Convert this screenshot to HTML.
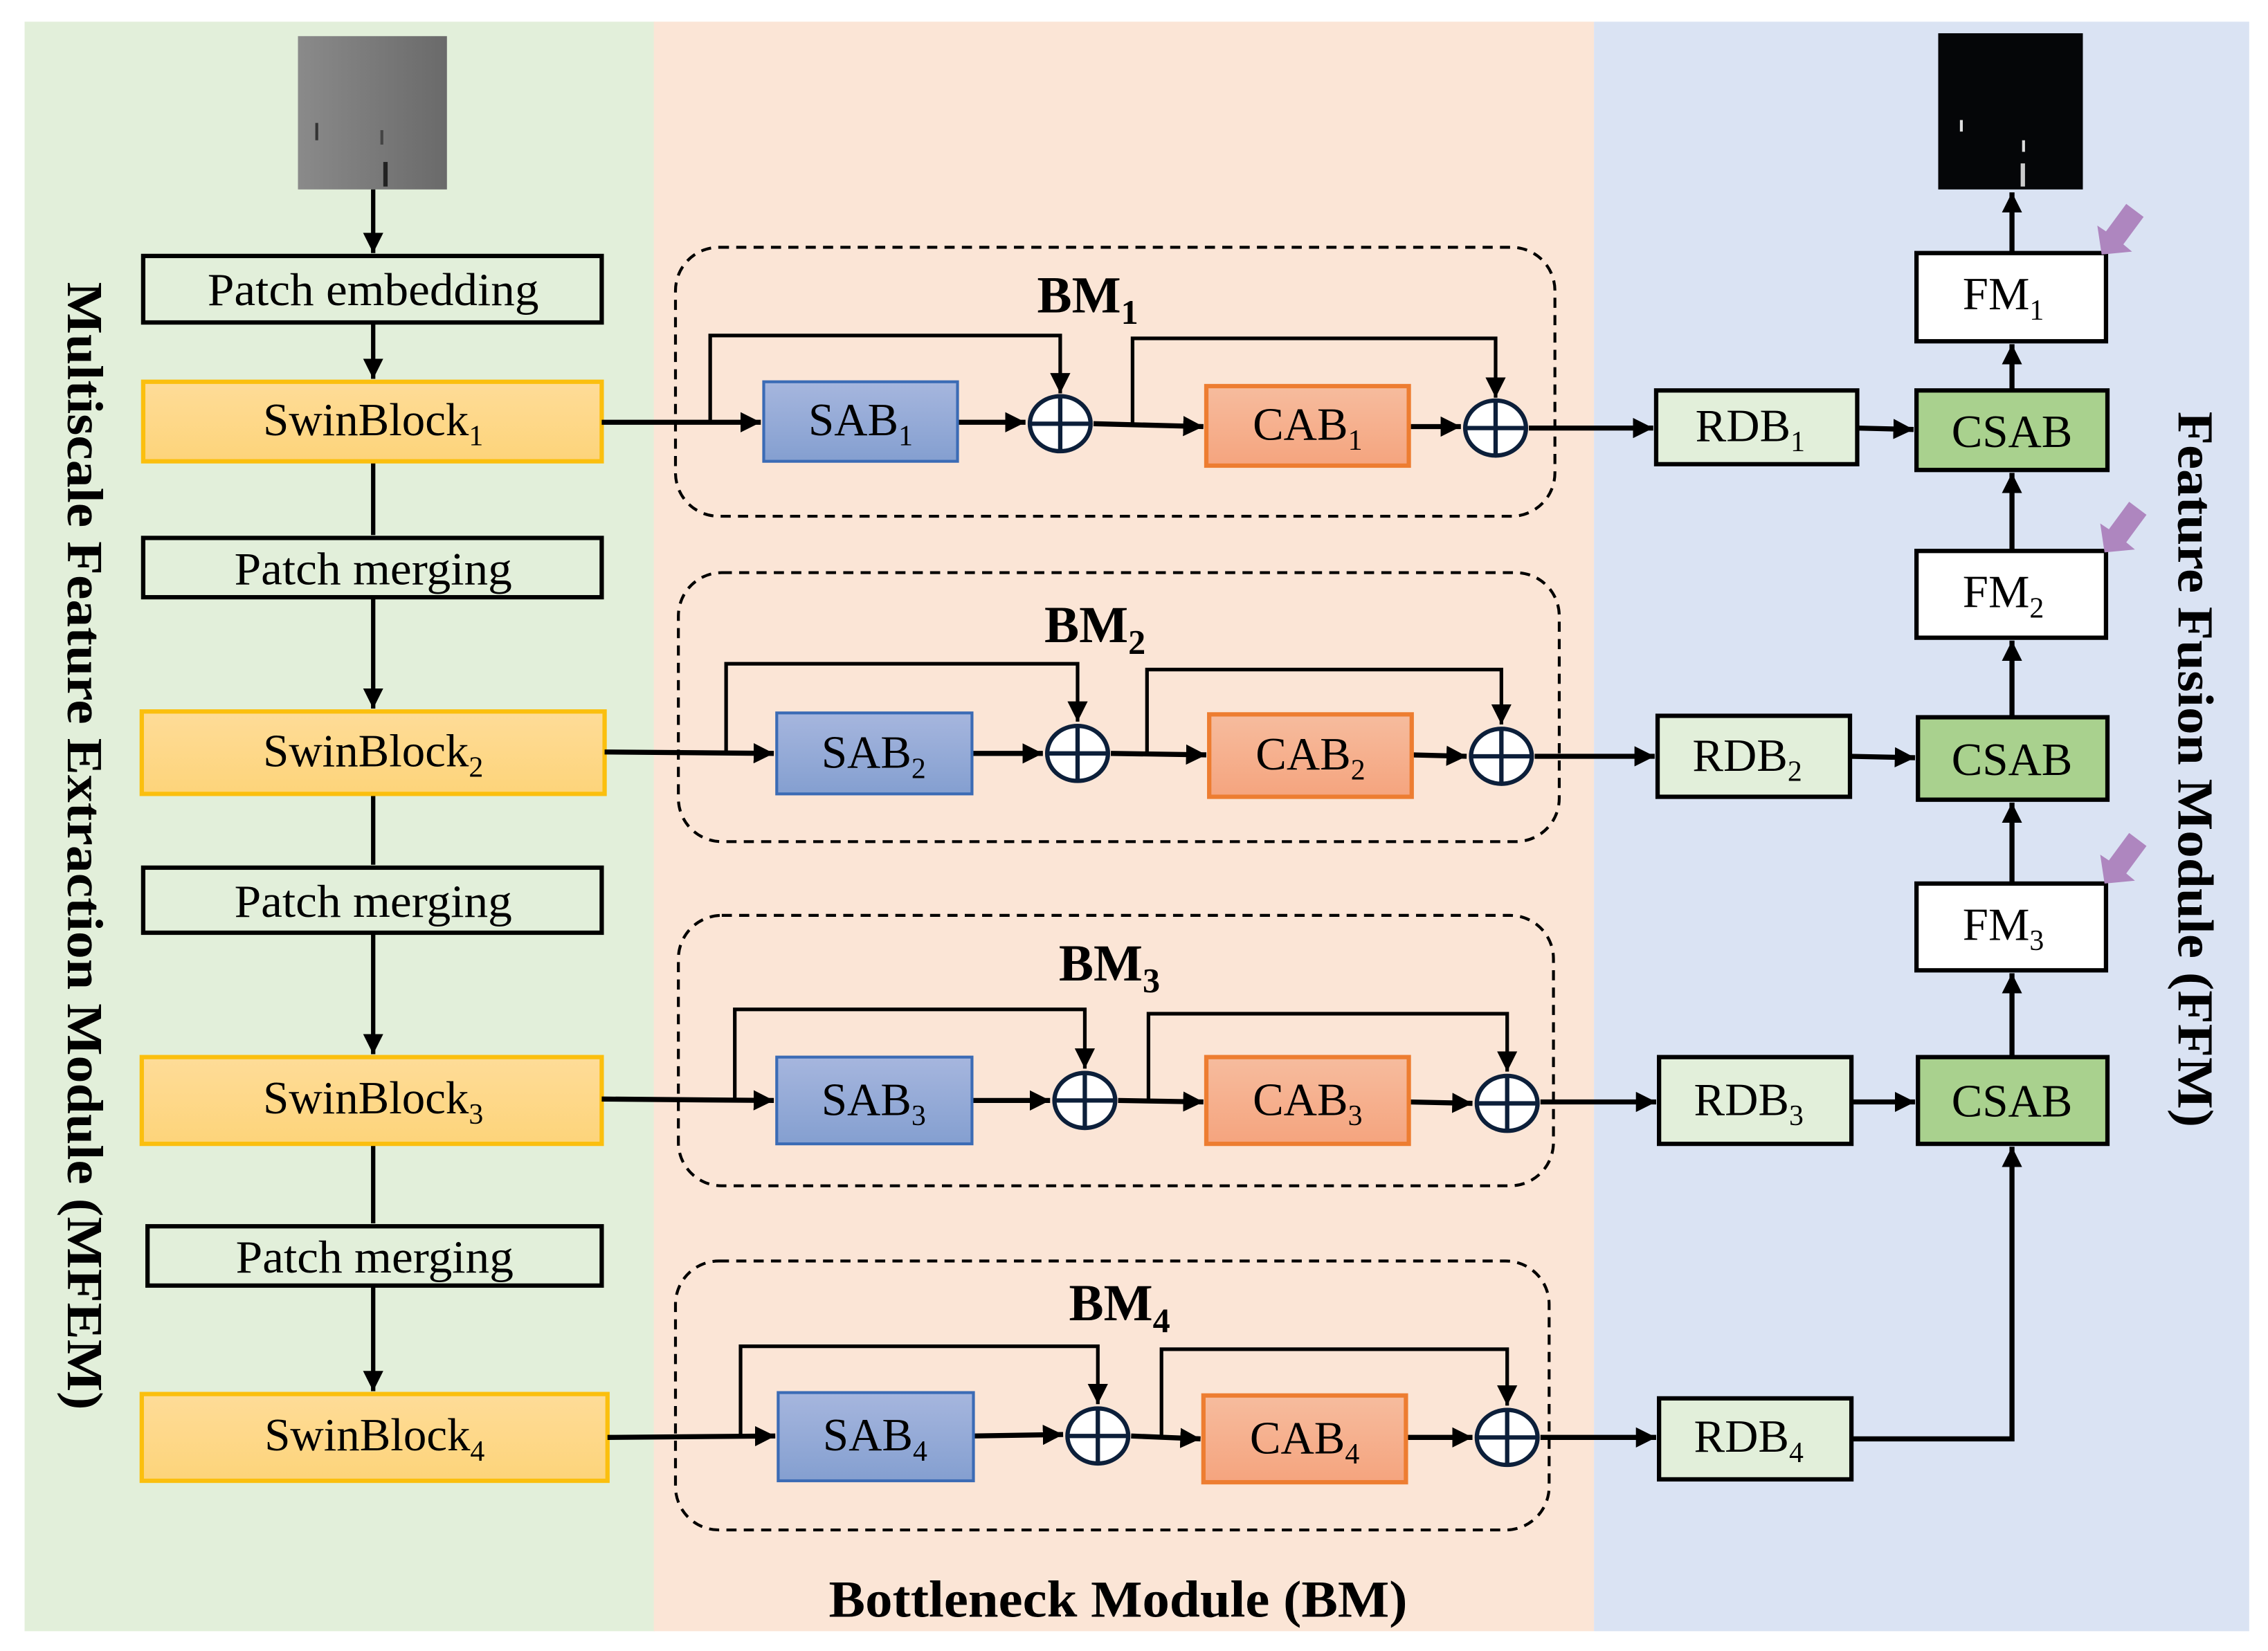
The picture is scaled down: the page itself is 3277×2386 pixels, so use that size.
<!DOCTYPE html>
<html><head><meta charset="utf-8"><style>
html,body{margin:0;padding:0;background:#fff;}
svg{display:block;}
text{font-family:"Liberation Serif",serif;fill:#000;}
</style></head><body>
<svg width="3277" height="2386" viewBox="0 0 1568 1141.7" preserveAspectRatio="none" xmlns="http://www.w3.org/2000/svg">
<defs>
<marker id="a" viewBox="0 0 10 10" refX="10" refY="5" markerWidth="14" markerHeight="14" markerUnits="userSpaceOnUse" orient="auto"><path d="M0,0 L10,5 L0,10 z" fill="#000"/></marker>
<linearGradient id="gy" x1="0" y1="0" x2="0" y2="1"><stop offset="0" stop-color="#fedc98"/><stop offset="1" stop-color="#fdd47a"/></linearGradient>
<linearGradient id="gb" x1="0" y1="0" x2="0" y2="1"><stop offset="0" stop-color="#a6b6de"/><stop offset="1" stop-color="#849fd0"/></linearGradient>
<linearGradient id="go" x1="0" y1="0" x2="0" y2="1"><stop offset="0" stop-color="#f6bc9e"/><stop offset="1" stop-color="#f5a47e"/></linearGradient>
<linearGradient id="gi" x1="0" y1="0" x2="1" y2="0"><stop offset="0" stop-color="#8a8a8a"/><stop offset="1" stop-color="#6a6a6a"/></linearGradient>
</defs>
<rect x="17" y="15" width="436" height="1113" fill="#e2efda"/>
<rect x="452" y="15" width="650" height="1113" fill="#fbe5d6"/>
<rect x="1102" y="15" width="453" height="1113" fill="#dae3f3"/>

<rect x="206" y="25" width="103" height="106" fill="url(#gi)"/>
<rect x="218" y="85" width="2" height="12" fill="#333"/>
<rect x="265" y="112" width="3" height="17" fill="#222"/>
<rect x="263" y="90" width="2" height="10" fill="#444"/>
<rect x="1340" y="23" width="100" height="108" fill="#050608"/>
<rect x="1355" y="83" width="2" height="8" fill="#ddd"/>
<rect x="1398" y="97" width="2" height="8" fill="#ddd"/>
<rect x="1397" y="113" width="3" height="16" fill="#ccc"/>

<g stroke="#000" stroke-width="3" fill="none">
<line x1="258" y1="131" x2="258" y2="175" marker-end="url(#a)"/>
<line x1="258" y1="223" x2="258" y2="262" marker-end="url(#a)"/>
<line x1="258" y1="319" x2="258" y2="370"/>
<line x1="258" y1="413" x2="258" y2="490" marker-end="url(#a)"/>
<line x1="258" y1="549" x2="258" y2="598"/>
<line x1="258" y1="645" x2="258" y2="729" marker-end="url(#a)"/>
<line x1="258" y1="791" x2="258" y2="846"/>
<line x1="258" y1="889" x2="258" y2="962" marker-end="url(#a)"/>
</g>
<g fill="#e2efda" stroke="#000" stroke-width="3">
<rect x="99" y="177" width="317" height="46"/>
<rect x="99" y="372" width="317" height="41"/>
<rect x="99" y="600" width="317" height="45"/>
<rect x="102" y="848" width="314" height="41"/>
</g>
<g font-size="32" text-anchor="middle">
<text x="258" y="211" textLength="229" lengthAdjust="spacingAndGlyphs">Patch embedding</text>
<text x="258" y="404" textLength="192" lengthAdjust="spacingAndGlyphs">Patch merging</text>
<text x="258" y="634" textLength="192" lengthAdjust="spacingAndGlyphs">Patch merging</text>
<text x="259" y="880" textLength="192" lengthAdjust="spacingAndGlyphs">Patch merging</text>
</g>
<g fill="url(#gy)" stroke="#fbbf0e" stroke-width="3">
<rect x="99" y="264" width="317" height="55"/>
<rect x="98" y="492" width="320" height="57"/>
<rect x="98" y="731" width="318" height="60"/>
<rect x="98" y="964" width="322" height="60"/>
</g>
<g font-size="32" text-anchor="middle">
<text x="258" y="301">SwinBlock<tspan font-size="20" dy="7">1</tspan></text>
<text x="258" y="530">SwinBlock<tspan font-size="20" dy="7">2</tspan></text>
<text x="258" y="770">SwinBlock<tspan font-size="20" dy="7">3</tspan></text>
<text x="259" y="1003">SwinBlock<tspan font-size="20" dy="7">4</tspan></text>
</g>

<g fill="none" stroke="#000" stroke-width="2" stroke-dasharray="7,5">
<rect x="467" y="171" width="608" height="186" rx="30"/>
<rect x="469" y="396" width="609" height="186" rx="30"/>
<rect x="469" y="633" width="605" height="187" rx="30"/>
<rect x="467" y="872" width="604" height="186" rx="30"/>
</g>
<g font-size="36" font-weight="bold" text-anchor="middle">
<text x="752" y="216">BM<tspan font-size="24" dy="8">1</tspan></text>
<text x="757" y="444">BM<tspan font-size="24" dy="8">2</tspan></text>
<text x="767" y="678">BM<tspan font-size="24" dy="8">3</tspan></text>
<text x="774" y="913">BM<tspan font-size="24" dy="8">4</tspan></text>
</g>

<g stroke="#000" stroke-width="3.5" fill="none">
<line x1="416" y1="292" x2="526" y2="292" marker-end="url(#a)"/>
<polyline points="491,292 491,232 733,232 733,272" stroke-width="2.5" marker-end="url(#a)"/>
<line x1="662" y1="292" x2="709" y2="292" marker-end="url(#a)"/>
<line x1="756" y1="293" x2="832" y2="295" marker-end="url(#a)"/>
<polyline points="783,295 783,234 1034,234 1034,275" stroke-width="2.5" marker-end="url(#a)"/>
<line x1="974" y1="295" x2="1010" y2="295" marker-end="url(#a)"/>
<line x1="1057" y1="296" x2="1143" y2="296" marker-end="url(#a)"/>
<line x1="1284" y1="296" x2="1323" y2="297" marker-end="url(#a)"/>
<line x1="418" y1="520" x2="535" y2="521" marker-end="url(#a)"/>
<polyline points="502,520 502,459 745,459 745,499" stroke-width="2.5" marker-end="url(#a)"/>
<line x1="672" y1="521" x2="721" y2="521" marker-end="url(#a)"/>
<line x1="768" y1="521" x2="834" y2="522" marker-end="url(#a)"/>
<polyline points="793,521 793,463 1038,463 1038,501" stroke-width="2.5" marker-end="url(#a)"/>
<line x1="976" y1="522" x2="1014" y2="523" marker-end="url(#a)"/>
<line x1="1061" y1="523" x2="1144" y2="523" marker-end="url(#a)"/>
<line x1="1279" y1="523" x2="1324" y2="524" marker-end="url(#a)"/>
<line x1="416" y1="760" x2="535" y2="761" marker-end="url(#a)"/>
<polyline points="508,760 508,698 750,698 750,739" stroke-width="2.5" marker-end="url(#a)"/>
<line x1="672" y1="761" x2="726" y2="761" marker-end="url(#a)"/>
<line x1="773" y1="761" x2="832" y2="762" marker-end="url(#a)"/>
<polyline points="794,761 794,701 1042,701 1042,741" stroke-width="2.5" marker-end="url(#a)"/>
<line x1="974" y1="762" x2="1018" y2="763" marker-end="url(#a)"/>
<line x1="1065" y1="762" x2="1145" y2="762" marker-end="url(#a)"/>
<line x1="1280" y1="762" x2="1324" y2="762" marker-end="url(#a)"/>
<line x1="420" y1="994" x2="536" y2="993" marker-end="url(#a)"/>
<polyline points="512,993 512,931 759,931 759,971" stroke-width="2.5" marker-end="url(#a)"/>
<line x1="673" y1="993" x2="735" y2="992" marker-end="url(#a)"/>
<line x1="782" y1="993" x2="830" y2="995" marker-end="url(#a)"/>
<polyline points="803,993 803,933 1042,933 1042,972" stroke-width="2.5" marker-end="url(#a)"/>
<line x1="972" y1="994" x2="1018" y2="994" marker-end="url(#a)"/>
<line x1="1065" y1="994" x2="1145" y2="994" marker-end="url(#a)"/>
<polyline points="1280,995 1391,995 1391,793" marker-end="url(#a)"/>
<line x1="1391" y1="731" x2="1391" y2="673" marker-end="url(#a)"/>
<line x1="1391" y1="611" x2="1391" y2="555" marker-end="url(#a)"/>
<line x1="1391" y1="496" x2="1391" y2="443" marker-end="url(#a)"/>
<line x1="1391" y1="381" x2="1391" y2="327" marker-end="url(#a)"/>
<line x1="1391" y1="270" x2="1391" y2="238" marker-end="url(#a)"/>
<line x1="1391" y1="175" x2="1391" y2="133" marker-end="url(#a)"/>
</g>

<g fill="url(#gb)" stroke="#3b6bb5" stroke-width="2">
<rect x="528" y="264" width="134" height="55"/>
<rect x="537" y="493" width="135" height="56"/>
<rect x="537" y="731" width="135" height="60"/>
<rect x="538" y="963" width="135" height="61"/>
</g>
<g fill="url(#go)" stroke="#ed7d31" stroke-width="3">
<rect x="834" y="267" width="140" height="55"/>
<rect x="836" y="494" width="140" height="57"/>
<rect x="834" y="731" width="140" height="60"/>
<rect x="832" y="965" width="140" height="60"/>
</g>
<g font-size="32" text-anchor="middle">
<text x="595" y="301">SAB<tspan font-size="20" dy="7">1</tspan></text>
<text x="604" y="531">SAB<tspan font-size="20" dy="7">2</tspan></text>
<text x="604" y="771">SAB<tspan font-size="20" dy="7">3</tspan></text>
<text x="605" y="1003">SAB<tspan font-size="20" dy="7">4</tspan></text>
<text x="904" y="304">CAB<tspan font-size="20" dy="7">1</tspan></text>
<text x="906" y="532">CAB<tspan font-size="20" dy="7">2</tspan></text>
<text x="904" y="771">CAB<tspan font-size="20" dy="7">3</tspan></text>
<text x="902" y="1005">CAB<tspan font-size="20" dy="7">4</tspan></text>
</g>

<g fill="#fff" stroke="#0c1f3a" stroke-width="3">
<ellipse cx="733" cy="293" rx="21" ry="19"/>
<ellipse cx="1034" cy="296" rx="21" ry="19"/>
<ellipse cx="745" cy="521" rx="21" ry="19"/>
<ellipse cx="1038" cy="523" rx="21" ry="19"/>
<ellipse cx="750" cy="761" rx="21" ry="19"/>
<ellipse cx="1042" cy="763" rx="21" ry="19"/>
<ellipse cx="759" cy="993" rx="21" ry="19"/>
<ellipse cx="1042" cy="994" rx="21" ry="19"/>
</g>
<g stroke="#0c1f3a" stroke-width="3">
<path d="M712,293h42M733,274v38"/>
<path d="M1013,296h42M1034,277v38"/>
<path d="M724,521h42M745,502v38"/>
<path d="M1017,523h42M1038,504v38"/>
<path d="M729,761h42M750,742v38"/>
<path d="M1021,763h42M1042,744v38"/>
<path d="M738,993h42M759,974v38"/>
<path d="M1021,994h42M1042,975v38"/>
</g>

<g fill="#e2efda" stroke="#000" stroke-width="3">
<rect x="1145" y="270" width="139" height="51"/>
<rect x="1146" y="495" width="133" height="56"/>
<rect x="1147" y="731" width="133" height="60"/>
<rect x="1147" y="967" width="133" height="56"/>
</g>
<g fill="#a9d18e" stroke="#000" stroke-width="3">
<rect x="1325" y="270" width="132" height="55"/>
<rect x="1326" y="496" width="131" height="57"/>
<rect x="1326" y="731" width="131" height="60"/>
</g>
<g fill="#fff" stroke="#000" stroke-width="3">
<rect x="1325" y="175" width="131" height="61"/>
<rect x="1325" y="381" width="131" height="60"/>
<rect x="1325" y="611" width="131" height="60"/>
</g>
<g font-size="32" text-anchor="middle">
<text x="1210" y="305">RDB<tspan font-size="20" dy="7">1</tspan></text>
<text x="1208" y="533">RDB<tspan font-size="20" dy="7">2</tspan></text>
<text x="1209" y="771">RDB<tspan font-size="20" dy="7">3</tspan></text>
<text x="1209" y="1004">RDB<tspan font-size="20" dy="7">4</tspan></text>
<text x="1391" y="309">CSAB</text>
<text x="1391" y="536">CSAB</text>
<text x="1391" y="772">CSAB</text>
<text x="1385" y="214">FM<tspan font-size="20" dy="7">1</tspan></text>
<text x="1385" y="420">FM<tspan font-size="20" dy="7">2</tspan></text>
<text x="1385" y="650">FM<tspan font-size="20" dy="7">3</tspan></text>
</g>

<g fill="#ae86bf">
<polygon transform="translate(1453,176)" points="0,0 -3,-20 3,-16 17,-35 29,-26 15,-7 21,-2"/>
<polygon transform="translate(1455,382)" points="0,0 -3,-20 3,-16 17,-35 29,-26 15,-7 21,-2"/>
<polygon transform="translate(1455,611)" points="0,0 -3,-20 3,-16 17,-35 29,-26 15,-7 21,-2"/>
</g>

<text transform="translate(47,585) rotate(90)" font-size="35" font-weight="bold" text-anchor="middle" textLength="780" lengthAdjust="spacingAndGlyphs">Multiscale Feature Extraction Module (MFEM)</text>
<text transform="translate(1506,532) rotate(90)" font-size="35" font-weight="bold" text-anchor="middle" textLength="495" lengthAdjust="spacingAndGlyphs">Feature Fusion Module (FFM)</text>
<text x="773" y="1118" font-size="36" font-weight="bold" text-anchor="middle" textLength="400" lengthAdjust="spacingAndGlyphs">Bottleneck Module (BM)</text>
</svg>
</body></html>
